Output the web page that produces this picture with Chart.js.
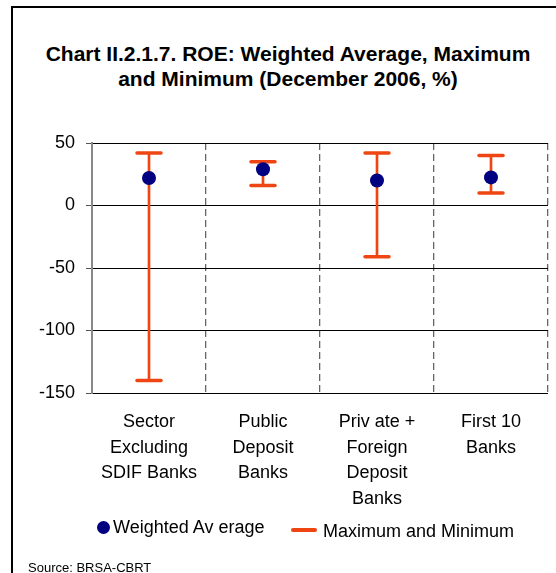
<!DOCTYPE html>
<html>
<head>
<meta charset="utf-8">
<script src="https://cdn.jsdelivr.net/npm/chart.js@4"></script>
<style>
  html, body { margin: 0; padding: 0; background: #fff; }
  body { width: 556px; height: 573px; position: relative; overflow: hidden;
         font-family: "Liberation Sans", Arial, sans-serif; color: #000; }
  #frame { position: absolute; left: 11px; top: 6px; width: 560px; height: 580px;
           border-left: 2px solid #000; border-top: 2px solid #000; }
  #title { position: absolute; left: 12px; width: 552px; top: 41px; text-align: center;
           font-weight: bold; font-size: 21px; line-height: 25px; }
  #chartBox { position: absolute; left: 0; top: 0; width: 556px; height: 573px; }
  .legend-text { position: absolute; font-size: 18px; line-height: 20px; white-space: nowrap; }
  #dot { position: absolute; left: 97px; top: 521px; width: 13px; height: 13px;
         border-radius: 50%; background: #000080; }
  #dash { position: absolute; left: 291px; top: 528px; width: 26px; height: 4px;
          border-radius: 2px; background: #EE4512; }
  #source { position: absolute; left: 28px; top: 560px; font-size: 13px; line-height: 15px; }
</style>
</head>
<body>
<div id="frame"></div>
<div id="title">Chart II.2.1.7. ROE: Weighted Average, Maximum<br>and Minimum (December 2006, %)</div>
<div id="chartBox"><canvas id="roe" width="556" height="573"></canvas></div>
<div id="dot"></div>
<div class="legend-text" style="left:113px; top:517px;">Weighted Av erage</div>
<div id="dash"></div>
<div class="legend-text" style="left:323px; top:521px;">Maximum and Minimum</div>
<div id="source">Source: BRSA-CBRT</div>

<script>
// Bank groups on the horizontal axis
const categories = [
  ["Sector", "Excluding", "SDIF Banks"],
  ["Public", "Deposit", "Banks"],
  ["Priv ate +", "Foreign", "Deposit", "Banks"],
  ["First 10", "Banks"]
];
// Return on equity, %
const weightedAverage = [22, 29, 20, 22.5];
const maximumValues = [42, 35, 42, 40];
const minimumValues = [-140, 16, -41, 10];
// Value axis
const yTicks = [50, 0, -50, -100, -150];

const RANGE_COLOR = '#EE4512';
const AVG_COLOR = '#000080';

// Horizontal caps at both ends of every min–max range
const rangeCaps = {
  id: 'rangeCaps',
  afterDatasetDraw(chart, args) {
    if (args.index !== 0) return;
    const ctx = chart.ctx;
    const yScale = chart.scales.y;
    ctx.save();
    ctx.strokeStyle = RANGE_COLOR;
    ctx.lineWidth = 3.5;
    ctx.lineCap = 'round';
    args.meta.data.forEach((bar, i) => {
      [maximumValues[i], minimumValues[i]].forEach(v => {
        const py = yScale.getPixelForValue(v);
        ctx.beginPath();
        ctx.moveTo(bar.x - 12, py);
        ctx.lineTo(bar.x + 12, py);
        ctx.stroke();
      });
    });
    ctx.restore();
  }
};

new Chart(document.getElementById('roe'), {
  type: 'bar',
  data: {
    labels: categories,
    datasets: [
      {
        label: 'Maximum and Minimum',
        data: minimumValues.map((mn, i) => [mn, maximumValues[i]]),
        backgroundColor: RANGE_COLOR,
        borderWidth: 0,
        barThickness: 2,
        order: 1
      },
      {
        type: 'line',
        label: 'Weighted Average',
        data: weightedAverage,
        showLine: false,
        pointRadius: 7,
        pointHoverRadius: 7,
        pointBackgroundColor: AVG_COLOR,
        pointBorderWidth: 0,
        order: 0
      }
    ]
  },
  options: {
    responsive: false,
    animation: false,
    events: [],
    layout: { padding: { top: 143, right: 8, bottom: 0, left: 0 } },
    plugins: { legend: { display: false }, title: { display: false }, tooltip: { enabled: false } },
    scales: {
      x: {
        offset: true,
        afterFit(scale) { scale.height = 180; },
        grid: { offset: true, color: '#666', lineWidth: 1.3, drawTicks: false },
        border: { display: false, dash: [7, 4] },
        ticks: {
          color: '#000', padding: 16, maxRotation: 0, autoSkip: false,
          font: { family: '"Liberation Sans", Arial, sans-serif', size: 18, lineHeight: 1.43 }
        }
      },
      y: {
        min: -150, max: 50,
        afterFit(scale) { scale.width = 92; },
        afterBuildTicks(scale) { scale.ticks = yTicks.map(v => ({ value: v })); },
        grid: { color: '#000', lineWidth: 1, tickLength: 6, tickColor: '#555' },
        border: { color: '#888', width: 2 },
        ticks: {
          color: '#000', padding: 11,
          font: { family: '"Liberation Sans", Arial, sans-serif', size: 18 }
        }
      }
    }
  },
  plugins: [rangeCaps]
});
</script>
</body>
</html>
